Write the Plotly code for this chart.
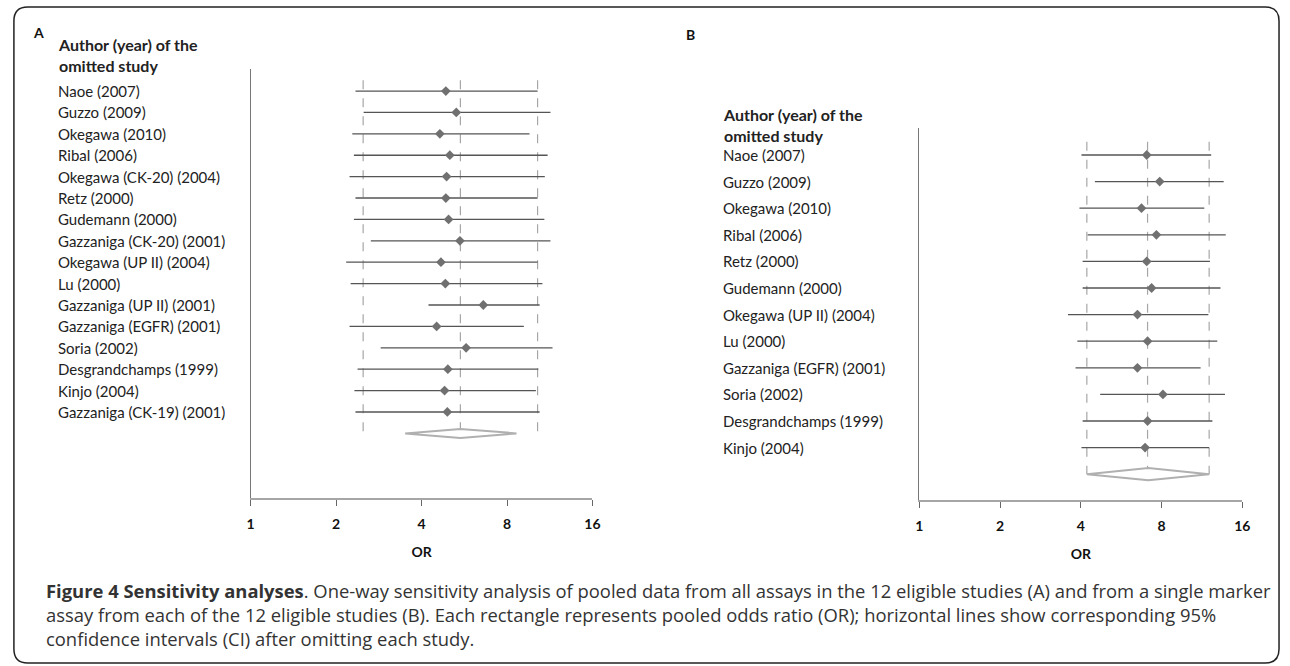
import plotly.graph_objects as go

# ---------------- data ----------------
studies_A = ["Naoe (2007)", "Guzzo (2009)", "Okegawa (2010)", "Ribal (2006)",
             "Okegawa (CK-20) (2004)", "Retz (2000)", "Gudemann (2000)",
             "Gazzaniga (CK-20) (2001)", "Okegawa (UP II) (2004)", "Lu (2000)",
             "Gazzaniga (UP II) (2001)", "Gazzaniga (EGFR) (2001)", "Soria (2002)",
             "Desgrandchamps (1999)", "Kinjo (2004)", "Gazzaniga (CK-19) (2001)"]
or_A = [4.87, 5.30, 4.64, 5.03, 4.90, 4.87, 4.98, 5.46, 4.68, 4.85, 6.60, 4.52, 5.74, 4.95, 4.82, 4.93]
lo_A = [2.34, 2.50, 2.28, 2.31, 2.23, 2.34, 2.31, 2.65, 2.17, 2.25, 4.23, 2.23, 2.87, 2.38, 2.32, 2.34]
hi_A = [10.25, 11.38, 9.60, 11.12, 10.87, 10.25, 10.83, 11.38, 10.25, 10.66, 10.42, 9.17, 11.57, 10.31, 10.11, 10.42]
ref_A = [2.49, 5.48, 10.25]          # dashed reference lines (lower, pooled, upper)
pooled_A = [3.50, 5.48, 8.64]        # summary diamond (lower, pooled, upper)

studies_B = ["Naoe (2007)", "Guzzo (2009)", "Okegawa (2010)", "Ribal (2006)",
             "Retz (2000)", "Gudemann (2000)", "Okegawa (UP II) (2004)", "Lu (2000)",
             "Gazzaniga (EGFR) (2001)", "Soria (2002)", "Desgrandchamps (1999)", "Kinjo (2004)"]
or_B = [7.04, 7.87, 6.73, 7.65, 7.04, 7.34, 6.50, 7.09, 6.50, 8.09, 7.09, 6.94]
lo_B = [4.02, 4.51, 3.95, 4.24, 4.06, 4.06, 3.58, 3.88, 3.82, 4.72, 4.06, 4.02]
hi_B = [12.24, 13.63, 11.54, 13.87, 12.11, 13.26, 11.95, 12.90, 11.18, 13.78, 12.37, 12.03]
ref_B = [4.21, 7.09, 12.03]
pooled_B = [4.21, 7.14, 12.03]

tick_vals = [1, 2, 4, 8, 16]
tick_text = ["1", "2", "4", "8", "16"]
header = ["Author (year) of the", "omitted study"]
caption_lines = [
    "<b>Figure 4 Sensitivity analyses</b>. One-way sensitivity analysis of pooled data from all assays in the 12 eligible studies (A) and from a single marker",
    "assay from each of the 12 eligible studies (B). Each rectangle represents pooled odds ratio (OR); horizontal lines show corresponding 95%",
    "confidence intervals (CI) after omitting each study.",
]

W, H = 1290, 666
LABEL_FONT = "Lato"
CAP_FONT = "Open Sans"

fig = go.Figure()


def px_x(p):
    return p / W


def px_y(p):
    return 1 - p / H


def add_panel(studies, ors, los, his, ref, pooled, xa, ya, label_x, dia_h):
    n = len(studies)
    rows = list(range(n))
    for v in ref:
        fig.add_trace(go.Scatter(x=[v, v], y=[-0.5, n], mode="lines",
                                 line=dict(color="#a6a6a6", width=1.2, dash="dash"),
                                 xaxis=xa, yaxis=ya, hoverinfo="skip", showlegend=False))
    xs, ys = [], []
    for r, l, h in zip(rows, los, his):
        xs += [l, h, None]
        ys += [r, r, None]
    fig.add_trace(go.Scatter(x=xs, y=ys, mode="lines",
                             line=dict(color="#555555", width=1.3),
                             xaxis=xa, yaxis=ya, hoverinfo="skip", showlegend=False))
    fig.add_trace(go.Scatter(x=ors, y=rows, mode="markers",
                             marker=dict(symbol="diamond", size=7.5, color="#707070"),
                             xaxis=xa, yaxis=ya, showlegend=False))
    lo, mid, hi = pooled
    fig.add_trace(go.Scatter(x=[lo, mid, hi, mid, lo], y=[n, n - dia_h, n, n + dia_h, n],
                             mode="lines", line=dict(color="#b0b0b0", width=2),
                             fill="toself", fillcolor="white",
                             xaxis=xa, yaxis=ya, hoverinfo="skip", showlegend=False))
    for r, s in zip(rows, studies):
        fig.add_annotation(text=s, x=px_x(label_x), xref="paper", xanchor="left",
                           y=r, yref=ya, yanchor="middle",
                           showarrow=False, font=dict(family=LABEL_FONT, size=15, color="#222222"))


add_panel(studies_A, or_A, lo_A, hi_A, ref_A, pooled_A, "x", "y", 52, 0.21)
add_panel(studies_B, or_B, lo_B, hi_B, ref_B, pooled_B, "x2", "y2", 724, 0.23)

axis_common_x = dict(type="log", tickvals=tick_vals, ticktext=tick_text,
                     showgrid=False, zeroline=False, showline=True,
                     linecolor="#a6a6a6", linewidth=2, ticks="outside", ticklen=6,
                     tickcolor="#666666", tickwidth=1,
                     tickfont=dict(family=LABEL_FONT, size=14, color="#111111", weight="bold"),
                     ticklabelstandoff=6,
                     title=dict(text="<b>OR</b>", font=dict(family=LABEL_FONT, size=14, color="#111111"),
                                standoff=16))
axis_common_y = dict(showgrid=False, zeroline=False, showline=True, linecolor="#777777",
                     linewidth=1, showticklabels=False, ticks="")

fig.update_layout(
    width=W, height=H, autosize=False,
    margin=dict(l=0, r=0, t=0, b=0),
    paper_bgcolor="white", plot_bgcolor="white",
    xaxis=dict(domain=[px_x(249), px_x(594)], range=[0, 1.20412], anchor="y", **axis_common_x),
    yaxis=dict(domain=[px_y(498), px_y(69)], range=[19.02, -1.03], anchor="x", **axis_common_y),
    xaxis2=dict(domain=[px_x(924), px_x(1250)], range=[0, 1.20412], anchor="y2", **axis_common_x),
    yaxis2=dict(domain=[px_y(500), px_y(128)], range=[12.97, -1.015], anchor="x2", **axis_common_y),
)

fig.add_annotation(text="<b>A</b>", x=px_x(27), y=px_y(32), xref="paper", yref="paper",
                   xanchor="left", yanchor="middle", showarrow=False,
                   font=dict(family=LABEL_FONT, size=14, color="#111111"))
fig.add_annotation(text="<b>B</b>", x=px_x(686), y=px_y(35), xref="paper", yref="paper",
                   xanchor="left", yanchor="middle", showarrow=False,
                   font=dict(family=LABEL_FONT, size=14, color="#111111"))
for (hx, hy0) in [(52, 43), (724, 113)]:
    fig.add_annotation(text="<br>".join("<b>" + t + "</b>" for t in header),
                       x=px_x(hx), y=px_y(hy0 - 10), xref="paper", yref="paper",
                       xanchor="left", yanchor="top", align="left",
                       showarrow=False, font=dict(family=LABEL_FONT, size=16, color="#222222"))

fig.add_annotation(text="<br>".join(caption_lines), x=px_x(40), y=px_y(614), xref="paper", yref="paper",
                   xanchor="left", yanchor="middle", align="left", showarrow=False,
                   font=dict(family=CAP_FONT, size=18.4, color="#333333"))

x0, x1 = px_x(10), px_x(1287)
y0, y1 = px_y(663), px_y(7)
rx, ry = 14 / W, 14 / H
path = (f"M {x0+rx},{y1} L {x1-rx},{y1} Q {x1},{y1} {x1},{y1-ry} "
        f"L {x1},{y0+ry} Q {x1},{y0} {x1-rx},{y0} L {x0+rx},{y0} Q {x0},{y0} {x0},{y0+ry} "
        f"L {x0},{y1-ry} Q {x0},{y1} {x0+rx},{y1} Z")
fig.add_shape(type="path", path=path, xref="paper", yref="paper",
              line=dict(color="#222222", width=1.5))

fig.write_html("out.html", config={"responsive": False, "displayModeBar": False})
with open("out.html", "r", encoding="utf-8") as f:
    html = f.read()
html = html.replace("<head>", "<head><style>html,body{margin:0;padding:0;overflow:hidden}</style>", 1)
with open("out.html", "w", encoding="utf-8") as f:
    f.write(html)
